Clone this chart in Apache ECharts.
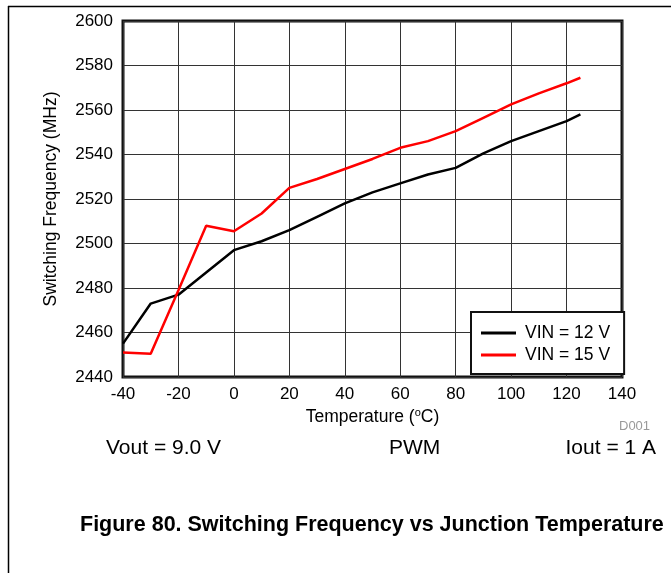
<!DOCTYPE html>
<html><head><meta charset="utf-8">
<script src="https://cdn.jsdelivr.net/npm/echarts@6/dist/echarts.min.js"></script>
<style>html,body{margin:0;padding:0;background:#fff}#c{width:671px;height:573px}</style>
</head><body><div id="c"></div>
<script>
const temps = [-40,-30,-20,-10,0,10,20,30,40,50,60,70,80,90,100,110,120,125];
const vin12 = [2455,2473,2477,2487,2497,2501,2506,2512,2518,2523,2527,2531,2534,2540.5,2546,2550.5,2555,2558];
const vin15 = [2451,2450.5,2479,2508,2505.5,2513.5,2525,2529,2533.5,2538,2543,2546,2550.5,2556.5,2562.5,2567.5,2572,2574.5];
const seriesNames = ['VIN = 12 V','VIN = 15 V'];
const xTicks = {min:-40,max:140,interval:20};
const yTicks = {min:2440,max:2600,interval:20};

const font = 'Liberation Sans, Arial, sans-serif';
const chart = echarts.init(document.getElementById('c'));
const pair = arr => temps.map((t,i)=>[t,arr[i]]);
chart.setOption({
  animation:false,
  backgroundColor:'#fff',
  grid:{left:123,top:21,width:499,height:356,show:true,borderColor:'#111',borderWidth:3},
  xAxis:{type:'value',min:xTicks.min,max:xTicks.max,interval:xTicks.interval,
    axisLine:{show:false},axisTick:{show:false},
    splitLine:{lineStyle:{color:'#333',width:1}},
    axisLabel:{fontFamily:font,fontSize:17,color:'#000',margin:9},
    name:'{a|Temperature (}{s|o}{a|C)}',nameLocation:'middle',nameGap:30,
    nameTextStyle:{rich:{a:{fontFamily:font,fontSize:17.5,color:'#000'},s:{fontFamily:font,fontSize:11,color:'#000',verticalAlign:'top',padding:[0,0,8,0]}}}},
  yAxis:{type:'value',min:yTicks.min,max:yTicks.max,interval:yTicks.interval,
    axisLine:{show:false},axisTick:{show:false},
    splitLine:{lineStyle:{color:'#333',width:1}},
    axisLabel:{fontFamily:font,fontSize:17,color:'#000',margin:10,formatter:v=>String(v)},
    name:'Switching Frequency (MHz)',nameLocation:'middle',nameGap:63,
    nameTextStyle:{fontFamily:font,fontSize:17.5,color:'#000'}},
  legend:{left:471,top:312,orient:'vertical',
    backgroundColor:'#fff',borderColor:'#111',borderWidth:2,borderRadius:0,
    padding:[12,14,10,10],itemGap:4,itemWidth:35,itemHeight:3,icon:'rect',
    textStyle:{fontFamily:font,fontSize:17.5,color:'#000',padding:[0,0,0,4]},
    data:seriesNames},
  series:[
    {name:seriesNames[0],type:'line',data:pair(vin12),symbol:'none',lineStyle:{color:'#000',width:2.5},itemStyle:{color:'#000'}},
    {name:seriesNames[1],type:'line',data:pair(vin15),symbol:'none',lineStyle:{color:'#ff0000',width:2.5},itemStyle:{color:'#ff0000'}}
  ],
  graphic:[
    {type:'line',shape:{x1:8,y1:6.5,x2:671,y2:6.5},style:{stroke:'#000',lineWidth:1.5}},
    {type:'line',shape:{x1:8.5,y1:6,x2:8.5,y2:573},style:{stroke:'#000',lineWidth:1.5}},
    {type:'text',left:619,top:420,style:{text:'D001',fontFamily:font,fontSize:13,fill:'#999'}},
    {type:'text',left:106,top:438,style:{text:'Vout = 9.0 V',fontFamily:font,fontSize:21,fill:'#000'}},
    {type:'text',left:389,top:438,style:{text:'PWM',fontFamily:font,fontSize:21,fill:'#000'}},
    {type:'text',right:15,top:438,style:{text:'Iout = 1 A',fontFamily:font,fontSize:21,fill:'#000'}},
    {type:'text',left:80,top:514,style:{text:'Figure 80. Switching Frequency vs Junction Temperature',fontFamily:font,fontSize:21.5,fontWeight:'bold',fill:'#000'}}
  ]
});
</script></body></html>
